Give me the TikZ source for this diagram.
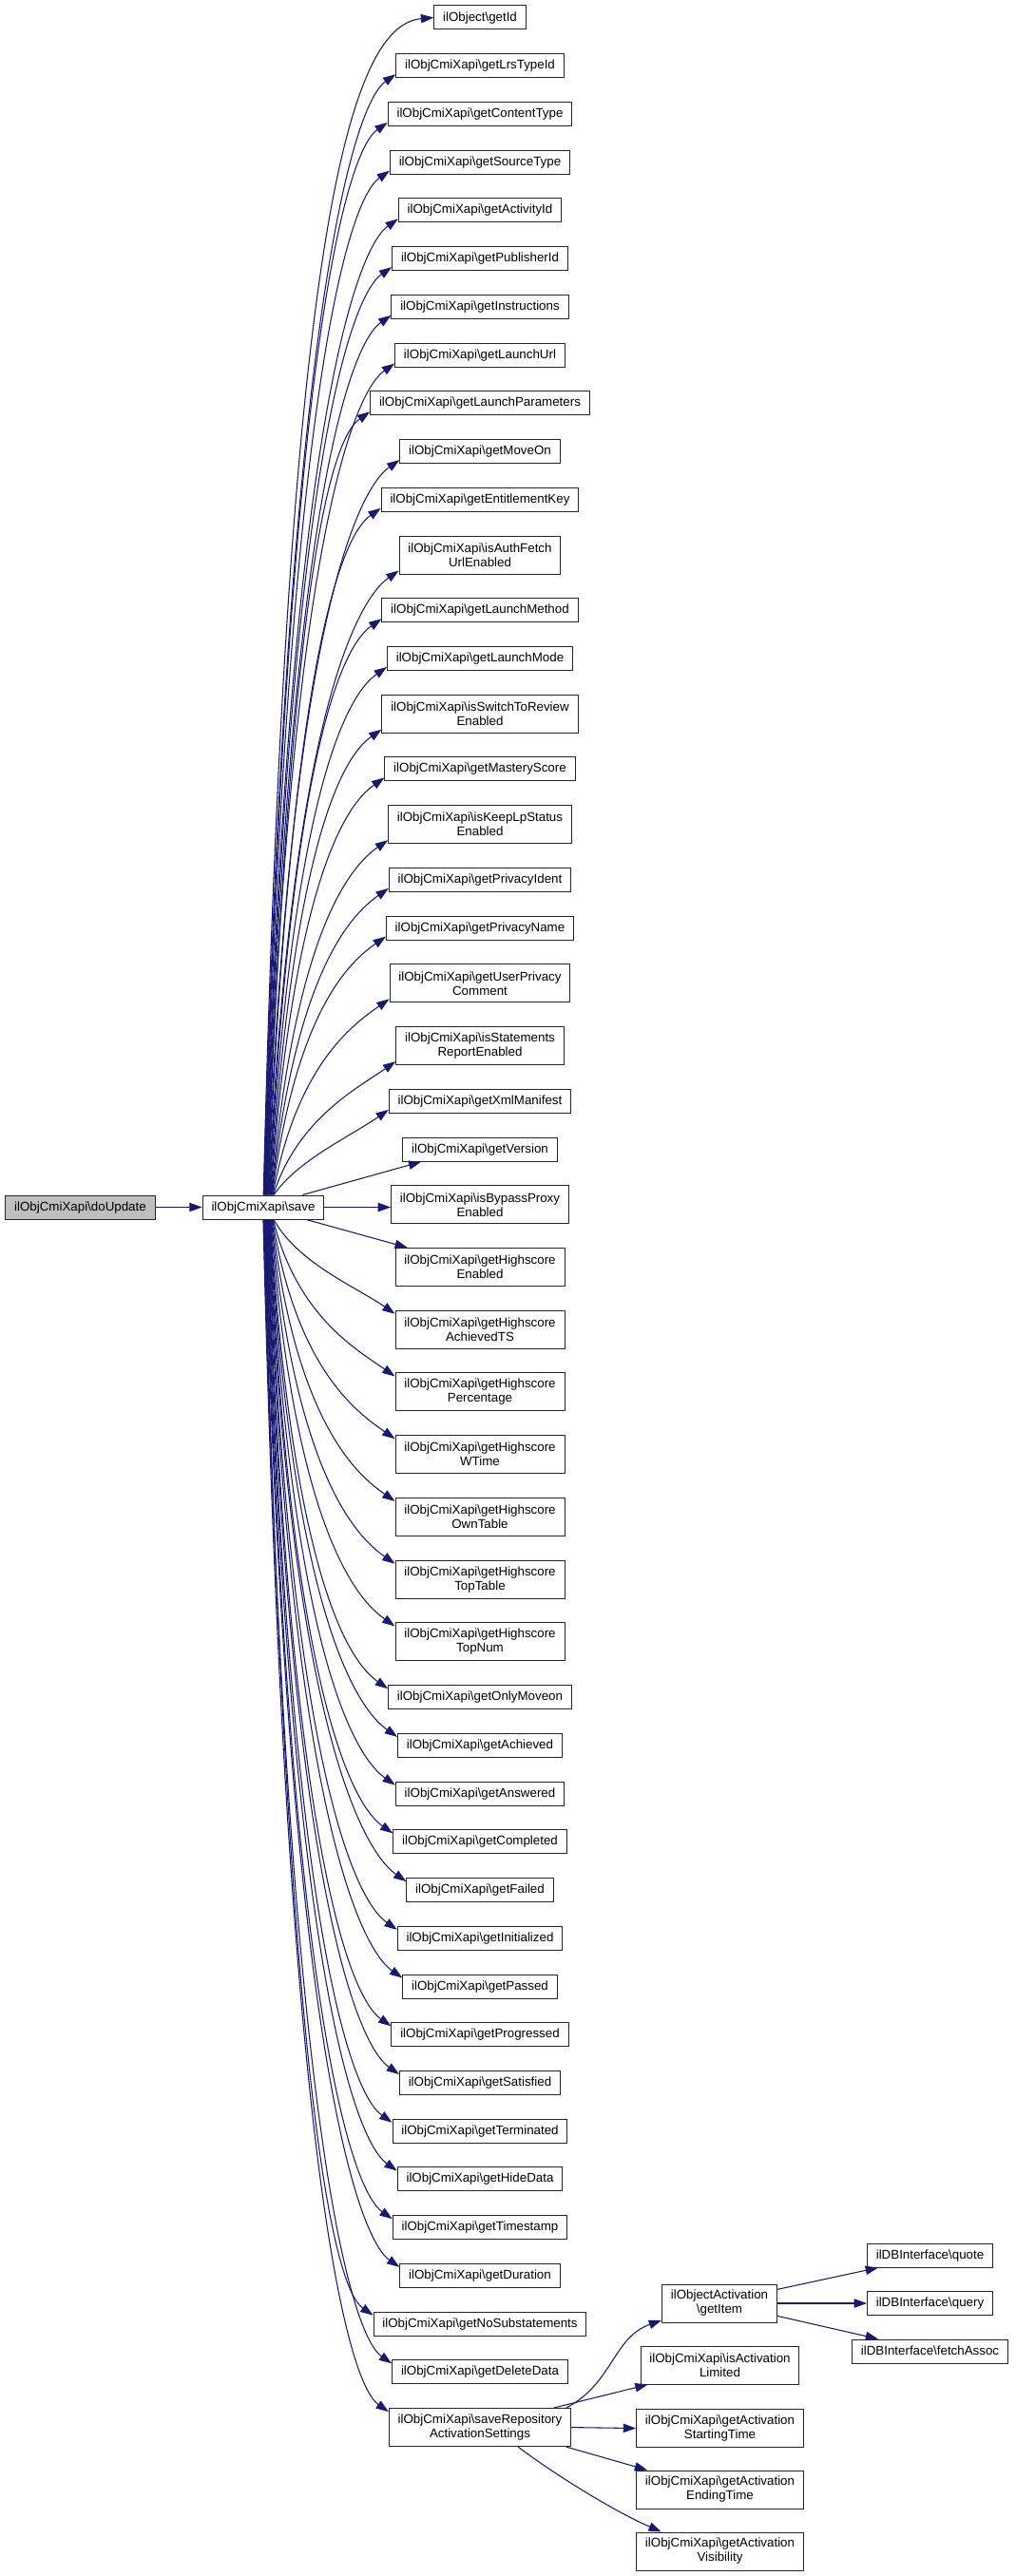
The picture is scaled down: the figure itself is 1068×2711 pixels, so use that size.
\documentclass[tikz,border=0pt]{standalone}
\usepackage{fontspec}
\setmainfont{Liberation Sans}
\usetikzlibrary{arrows.meta,calc}
\definecolor{edgec}{HTML}{191970}
\definecolor{boxc}{HTML}{262626}
\newcommand\ocx{ilObjCmiXapi\textbackslash}
\newcommand\bsl{\textbackslash}
\tikzset{
 box/.style={draw=boxc, line width=0.75pt, fill=white, inner xsep=7pt, inner ysep=0pt,
   font=\fontsize{10pt}{11.25pt}\selectfont, align=center},
 bx0/.style={box, minimum height=18.75pt, text height=7.4pt, text depth=2.1pt},
 bx1/.style={box, minimum height=30pt},
 conn/.style={draw=edgec, line width=0.8pt, -{Triangle[length=10pt,width=7pt]}},
}
\begin{document}
\begin{tikzpicture}[x=0.75pt,y=-0.75pt]
\useasboundingbox[fill=white] (0,0) rectangle (1068,2711);
\node[bx0, fill=black!25] (doupdate) at (84.5,1270.5) {\ocx doUpdate};
\node[bx0] (save) at (277,1270.5) {\ocx save};
\draw[conn] (doupdate.east) -- (save.west);
\gdef\cury{6}
\foreach \nm/\tx/\dd [count=\i] in {
 getid/{ilObject\bsl getId}/0,
 lrs/{\ocx getLrsTypeId}/0,
 ctype/{\ocx getContentType}/0,
 stype/{\ocx getSourceType}/0,
 actid/{\ocx getActivityId}/0,
 pubid/{\ocx getPublisherId}/0,
 instr/{\ocx getInstructions}/0,
 lurl/{\ocx getLaunchUrl}/0,
 lpar/{\ocx getLaunchParameters}/0,
 moveon/{\ocx getMoveOn}/0,
 ekey/{\ocx getEntitlementKey}/0,
 authf/{\ocx isAuthFetch\\UrlEnabled}/1,
 lmeth/{\ocx getLaunchMethod}/0,
 lmode/{\ocx getLaunchMode}/0,
 switchrev/{\ocx isSwitchToReview\\Enabled}/1,
 mastery/{\ocx getMasteryScore}/0,
 keeplp/{\ocx isKeepLpStatus\\Enabled}/1,
 pident/{\ocx getPrivacyIdent}/0,
 pname/{\ocx getPrivacyName}/0,
 upc/{\ocx getUserPrivacy\\Comment}/1,
 stmt/{\ocx isStatements\\ReportEnabled}/1,
 xml/{\ocx getXmlManifest}/0,
 version/{\ocx getVersion}/0,
 bypass/{\ocx isBypassProxy\\Enabled}/1,
 hsen/{\ocx getHighscore\\Enabled}/1,
 hsach/{\ocx getHighscore\\AchievedTS}/1,
 hsperc/{\ocx getHighscore\\Percentage}/1,
 hswt/{\ocx getHighscore\\WTime}/1,
 hsown/{\ocx getHighscore\\OwnTable}/1,
 hstopt/{\ocx getHighscore\\TopTable}/1,
 hstopn/{\ocx getHighscore\\TopNum}/1,
 onlymo/{\ocx getOnlyMoveon}/0,
 achieved/{\ocx getAchieved}/0,
 answered/{\ocx getAnswered}/0,
 completed/{\ocx getCompleted}/0,
 failed/{\ocx getFailed}/0,
 initialized/{\ocx getInitialized}/0,
 passed/{\ocx getPassed}/0,
 progressed/{\ocx getProgressed}/0,
 satisfied/{\ocx getSatisfied}/0,
 terminated/{\ocx getTerminated}/0,
 hide/{\ocx getHideData}/0,
 tstamp/{\ocx getTimestamp}/0,
 duration/{\ocx getDuration}/0,
 nosub/{\ocx getNoSubstatements}/0,
 deldata/{\ocx getDeleteData}/0,
 saverep/{\ocx saveRepository\\ActivationSettings}/1%
}{
  \pgfmathsetmacro\hh{\dd==1 ? 40 : 25}
  \pgfmathsetmacro\cy{\cury+\hh/2}
  \node[bx\dd] (\nm) at (505,\cy) {\tx};
  \ifnum\i<23
    \pgfmathsetmacro\ye{\cury+\hh-4}
    \pgfmathsetmacro\dy{1258-\ye}
    \pgfmathsetmacro\sx{12*(1-\dy/1250)}
    \pgfmathsetmacro\sxp{0.75*\sx}
    \pgfmathsetmacro\pa{277+\sx+25}
    \pgfmathsetmacro\pb{\ye+0.15*\dy+40}
    \ifnum\i=1
      \draw[conn] ([xshift=\sxp pt]save.north) .. controls (\pa,\pb) and ($(\nm.west)+(-90,8)$) .. (\nm.west);
    \else
      \draw[conn] ([xshift=\sxp pt]save.north) .. controls (\pa,\pb) and ($(\nm.south west)+(-40,24)$) .. ([yshift=3pt]\nm.south west);
    \fi
  \fi
  \ifnum\i=23
    \draw[conn] ([xshift=31pt]save.north) -- ([xshift=15pt]\nm.south west);
  \fi
  \ifnum\i=24
    \draw[conn] (save.east) -- (save.east -| \nm.west);
  \fi
  \ifnum\i=25
    \draw[conn] ([xshift=34pt]save.south) -- ([xshift=10pt]\nm.north west);
  \fi
  \ifnum\i>25
    \pgfmathsetmacro\ye{\cury+5}
    \pgfmathsetmacro\dy{\ye-1284}
    \pgfmathsetmacro\sx{12*(1-\dy/1250)}
    \pgfmathsetmacro\sxp{0.75*\sx}
    \pgfmathsetmacro\pa{277+\sx+25}
    \pgfmathsetmacro\pb{\ye-0.15*\dy-40}
    \draw[conn] ([xshift=\sxp pt]save.south) .. controls (\pa,\pb) and ($(\nm.north west)+(-40,-24)$) .. ([yshift=-3pt]\nm.north west);
  \fi
  \pgfmathsetmacro\ny{\cury+\hh+25.73}
  \xdef\cury{\ny}
}
% second level
\node[bx1] (getitem) at (757,2424) {ilObjectActivation\\\bsl getItem};
\node[bx1] (actlim) at (757.5,2489) {\ocx isActivation\\Limited};
\node[bx1] (startt) at (757.5,2555.5) {\ocx getActivation\\StartingTime};
\node[bx1] (endt) at (757.5,2620) {\ocx getActivation\\EndingTime};
\node[bx1] (visib) at (757.5,2685) {\ocx getActivation\\Visibility};
\node[bx0] (quote) at (978.5,2373.5) {ilDBInterface\bsl quote};
\node[bx0] (query) at (978.5,2424) {ilDBInterface\bsl query};
\node[bx0] (fetch) at (978.5,2474.5) {ilDBInterface\bsl fetchAssoc};
\draw[conn] ([xshift=-4pt]saverep.north east) .. controls (645,2508) and (645,2460) .. ([yshift=2pt]getitem.south west);
\draw[conn] ([xshift=-14pt]saverep.north east) -- ([xshift=6pt]actlim.south west);
\draw[conn] (saverep.east) -- (startt.west);
\draw[conn] ([xshift=-4pt]saverep.south east) -- ([xshift=9pt]endt.north west);
\draw[conn] ([xshift=-42pt]saverep.south east) .. controls (575,2598) and (640,2640) .. ([xshift=20pt]visib.north west);
\draw[conn] ([yshift=11pt]getitem.east) -- ([xshift=9pt]quote.south west);
\draw[conn] (getitem.east) -- (query.west);
\draw[conn] ([yshift=-10pt]getitem.east) -- ([xshift=21pt]fetch.north west);
\end{tikzpicture}
\end{document}
